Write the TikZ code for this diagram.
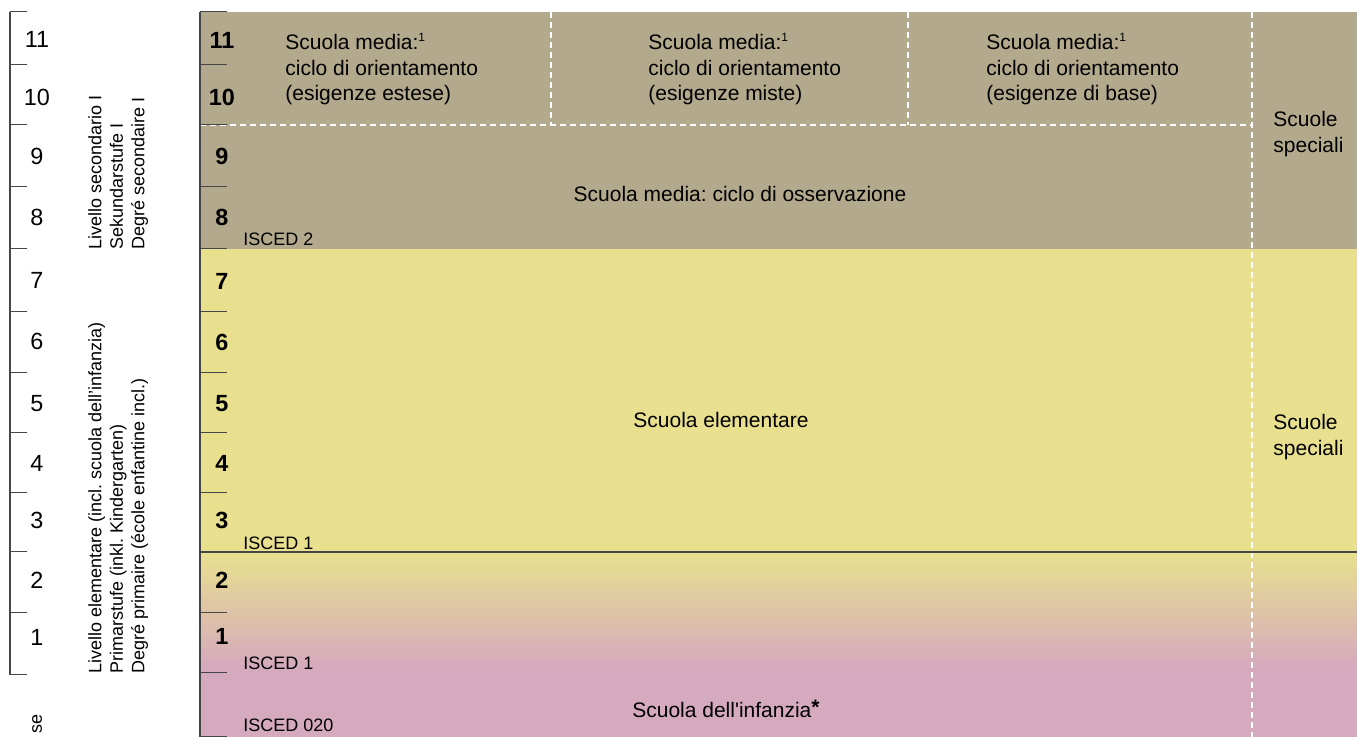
\documentclass[tikz,border=0pt]{standalone}
\usepackage{fontspec}
\setmainfont{Liberation Sans}
\usetikzlibrary{positioning}

\definecolor{secbrown}{RGB}{179,169,140}
\definecolor{elemyellow}{RGB}{232,224,142}
\definecolor{infpink}{RGB}{213,169,190}
\definecolor{rulegray}{RGB}{70,70,70}

\newcommand{\noteone}{\textsuperscript{\fontsize{6}{6}\selectfont 1}}

\begin{document}
\frenchspacing
\begin{tikzpicture}[x=0.5pt,y=-0.5pt,
    axisnum/.style={anchor=base, inner sep=0pt, font=\fontsize{11.7}{13}\selectfont},
    gradenum/.style={anchor=base, inner sep=0pt, font=\fontsize{11.7}{13}\selectfont\bfseries},
    isced/.style={anchor=base west, inner sep=0pt, font=\fontsize{9}{10}\selectfont},
    school/.style={anchor=north west, inner sep=0pt, align=left, font=\fontsize{10.5}{12.75}\selectfont},
    stagename/.style={anchor=base, inner sep=0pt, font=\fontsize{10.5}{12}\selectfont},
    levellabel/.style={rotate=90, anchor=north west, inner sep=0pt, align=left, font=\fontsize{9}{10.75}\selectfont},
    tickline/.style={draw=rulegray, line width=0.5pt},
    whitedash/.style={draw=white, line width=0.9pt, dash pattern=on 3pt off 2pt}]

                \useasboundingbox (0,0) rectangle (1357,737);

                % Bands
                \fill[secbrown] (200,12) rectangle (1357,249);
                \fill[elemyellow] (200,249) rectangle (1357,552);
                \shade[top color=elemyellow, bottom color=infpink] (200,552) rectangle (1357,668);
                \fill[infpink] (200,668) rectangle (1357,737);

                % Dashed borders
                \draw[whitedash] (200,125)--(1252,125);
                \draw[whitedash] (551,12)--(551,125);
                \draw[whitedash] (908,12)--(908,125);
                \draw[whitedash] (1252,12)--(1252,737);

                % Rules
                \draw[rulegray, line width=0.8pt] (200,552)--(1357,552);
                \draw[rulegray, line width=1pt] (200,12)--(200,737);
                \draw[rulegray, line width=0.6pt] (10,12)--(10,675);

                % Ticks
                \draw[tickline] (10,12)--(27,12);
                \draw[tickline] (10,65)--(27,65);
                \draw[tickline] (10,125)--(27,125);
                \draw[tickline] (10,187)--(27,187);
                \draw[tickline] (10,249)--(27,249);
                \draw[tickline] (10,312)--(27,312);
                \draw[tickline] (10,373)--(27,373);
                \draw[tickline] (10,433)--(27,433);
                \draw[tickline] (10,493)--(27,493);
                \draw[tickline] (10,552)--(27,552);
                \draw[tickline] (10,613)--(27,613);
                \draw[tickline] (10,675)--(27,675);
                \draw[tickline] (200,12)--(227,12);
                \draw[tickline] (200,65)--(227,65);
                \draw[tickline] (200,125)--(227,125);
                \draw[tickline] (200,187)--(227,187);
                \draw[tickline] (200,249)--(227,249);
                \draw[tickline] (200,312)--(227,312);
                \draw[tickline] (200,373)--(227,373);
                \draw[tickline] (200,433)--(227,433);
                \draw[tickline] (200,493)--(227,493);
                \draw[tickline] (200,613)--(227,613);
                \draw[tickline] (200,673)--(227,673);
                \draw[tickline] (200,737)--(227,737);

                % Axis years
                \node[axisnum] (a11) at (37,48) {11};
                \node[axisnum] (a10) at (37,106) {10};
                \node[axisnum] (a9) at (37,165) {9};
                \node[axisnum] (a8) at (37,226) {8};
                \node[axisnum] (a7) at (37,289) {7};
                \node[axisnum] (a6) at (37,350) {6};
                \node[axisnum] (a5) at (37,412) {5};
                \node[axisnum] (a4) at (37,472) {4};
                \node[axisnum] (a3) at (37,529) {3};
                \node[axisnum] (a2) at (37,589) {2};
                \node[axisnum] (a1) at (37,646) {1};
                \node[rotate=90, anchor=east, inner sep=0pt, font=\fontsize{9}{10}\selectfont] (classe) at (37,714) {se};

                % Level labels
                \node[levellabel] (seclevel) at (88,250) {Livello secondario I\\Sekundarstufe I\\Degré secondaire I};
                \node[levellabel] (primlevel) at (88,674) {Livello elementare (incl. scuola dell’infanzia)\\Primarstufe (inkl. Kindergarten)\\Degré primaire (école enfantine incl.)};

                % Grades
                \node[gradenum] (g11) at (222,49) {11};
                \node[gradenum] (g10) at (222,106) {10};
                \node[gradenum] (g9) at (222,165) {9};
                \node[gradenum] (g8) at (222,226) {8};
                \node[gradenum] (g7) at (222,290) {7};
                \node[gradenum] (g6) at (222,351) {6};
                \node[gradenum] (g5) at (222,412) {5};
                \node[gradenum] (g4) at (222,472) {4};
                \node[gradenum] (g3) at (222,529) {3};
                \node[gradenum] (g2) at (222,589) {2};
                \node[gradenum] (g1) at (222,645) {1};

                % ISCED
                \node[isced] (isced2) at (243,246) {ISCED 2};
                \node[isced] (isced1a) at (243,550) {ISCED 1};
                \node[isced] (isced1b) at (243,670) {ISCED 1};
                \node[isced] (isced020) at (243,732) {ISCED 020};

                % Schools
                \node[school] (orestese) at (285,33) {Scuola media:\noteone\\ciclo di orientamento\\(esigenze estese)};
                \node[school] (ormiste) at (648,33) {Scuola media:\noteone\\ciclo di orientamento\\(esigenze miste)};
                \node[school] (orbase) at (986,33) {Scuola media:\noteone\\ciclo di orientamento\\(esigenze di base)};
                \node[stagename] (osserv) at (740,202) {Scuola media: ciclo di osservazione};
                \node[stagename] (elem) at (721,428) {Scuola elementare};
                \node[stagename] (infanzia) at (726,718) {Scuola dell\textquotesingle infanzia\raisebox{1.5pt}{\bfseries *}};
                \node[school] (specsec) at (1273,111) {Scuole\\speciali};
                \node[school] (specelem) at (1273,414) {Scuole\\speciali};
            \end{tikzpicture}
\end{document}
